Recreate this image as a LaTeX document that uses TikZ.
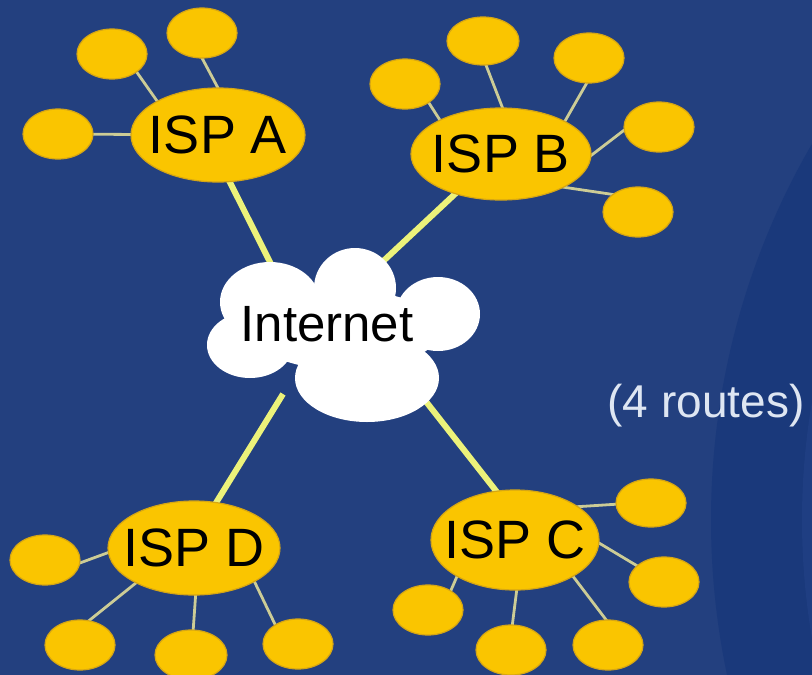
\documentclass[tikz,border=0pt]{standalone}
\usepackage{fontspec}
\setmainfont{Liberation Sans}
\usetikzlibrary{shapes.geometric}

\definecolor{bgblue}{RGB}{35,64,127}
\definecolor{ringblue}{RGB}{26,57,123}
\definecolor{ringlight}{RGB}{31,62,130}
\definecolor{ispyellow}{RGB}{250,197,0}
\definecolor{ispedge}{RGB}{214,166,20}
\definecolor{linkyellow}{RGB}{236,242,122}
\definecolor{spokegray}{RGB}{204,204,150}
\definecolor{notegray}{RGB}{222,230,242}

\pgfdeclarelayer{backdrop}
\pgfdeclarelayer{links}
\pgfsetlayers{backdrop,links,main}

\tikzset{
  hub/.style 2 args={ellipse, draw=ispedge, fill=ispyellow, line width=1.2pt,
    inner sep=0pt, outer sep=0pt, minimum width=#1, minimum height=#2},
  leaf/.style={hub={70pt}{50pt}},
  hublabel/.style={font=\fontsize{54}{54}\selectfont, text=black},
  mainlink/.style={linkyellow, line width=6pt, shorten <=-6pt},
  spoke/.style={spokegray, line width=2.8pt, shorten <=-3pt, shorten >=-3pt},
}

\begin{document}
\begin{tikzpicture}[x=1pt,y=-1pt]
	\useasboundingbox (0,0) rectangle (812,675);
	\begin{pgfonlayer}{backdrop}
		\fill[bgblue] (0,0) rectangle (812,675);
		\clip (0,0) rectangle (812,675);
		\fill[ringblue] (1461,520) circle (750pt);
		\fill[ringlight] (1502,520) circle (700pt);
	\end{pgfonlayer}

	% providers
	\node[hub={174pt}{94pt}, label={[hublabel]center:ISP A}] (ispA) at (218,135) {};
	\node[hub={180pt}{92pt}, label={[hublabel]center:ISP B}] (ispB) at (501,154) {};
	\node[hub={168pt}{100pt}, label={[hublabel]center:ISP C}] (ispC) at (515,540) {};
	\node[hub={172pt}{94pt}, label={[hublabel]center:ISP D}] (ispD) at (194,548) {};

	% customers
	\node[leaf] (a1) at (58,134) {};
	\node[leaf] (a2) at (112,54) {};
	\node[leaf] (a3) at (202,33) {};
	\node[leaf] (b1) at (405,84) {};
	\node[hub={72pt}{48pt}] (b2) at (483,41) {};
	\node[leaf] (b3) at (589,58) {};
	\node[leaf] (b4) at (659,127) {};
	\node[leaf] (b5) at (638,212) {};
	\node[hub={70pt}{48pt}] (c1) at (651,503) {};
	\node[leaf] (c2) at (664,582) {};
	\node[leaf] (c3) at (608,645) {};
	\node[leaf] (c4) at (511,650) {};
	\node[leaf] (c5) at (428,610) {};
	\node[leaf] (d1) at (45,560) {};
	\node[leaf] (d2) at (80,645) {};
	\node[hub={72pt}{50pt}] (d3) at (191,655) {};
	\node[leaf] (d4) at (298,644) {};

	% cloud
	\fill[white] (345,330) ellipse (95pt and 40pt);
	\fill[white] (270,302) ellipse (50pt and 40pt);
	\fill[white] (355,288) ellipse (41pt and 40pt);
	\fill[white] (438,314) ellipse (42pt and 37pt);
	\fill[white] (250,345) ellipse (43pt and 33pt);
	\fill[white] (367,378) ellipse (72pt and 44pt);
	\node[font=\fontsize{51}{51}\selectfont] (inet) at (327,324) {Internet};
	\coordinate (ina) at (274,270);
	\coordinate (inb) at (378,266);
	\coordinate (inc) at (424,399);
	\coordinate (ind) at (283,394);

	\node[notegray, font=\fontsize{46}{46}\selectfont, anchor=base] (routes) at (706,417) {(4 routes)};

	\begin{pgfonlayer}{links}
		\draw[mainlink] (ispA.-76) -- (ina);
		\draw[mainlink] (ispB.-139) -- (inb);
		\draw[mainlink] (ispC.111) -- (inc);
		\draw[mainlink] (ispD.64) -- (ind);

		\draw[spoke] (a1) -- (ispA);
		\draw[spoke] (a2.-36) -- (ispA.151);
		\draw[spoke] (a3.south) -- (ispA.north);
		\draw[spoke] (b1.-38) -- (ispB.151);
		\draw[spoke] (b2.-83) -- (ispB.88);
		\draw[spoke] (b3.-95) -- (ispB.27);
		\draw[spoke] (b4.185) -- (ispB.-1);
		\draw[spoke] (b5.145) -- (ispB.-28);
		\draw[spoke] (c1.182) -- (ispC.28);
		\draw[spoke] (c2.149) -- (ispC.-2);
		\draw[spoke] (c3.94) -- (ispC.-32);
		\draw[spoke] (c4.87) -- (ispC.-88);
		\draw[spoke] (c5.40) -- (ispC.-148);
		\draw[spoke] (d1.-5) -- (ispD.183);
		\draw[spoke] (d2.70) -- (ispD.-149);
		\draw[spoke] (d3.85) -- (ispD.-88);
		\draw[spoke] (d4.140) -- (ispD.-29);
	\end{pgfonlayer}
\end{tikzpicture}
\end{document}
